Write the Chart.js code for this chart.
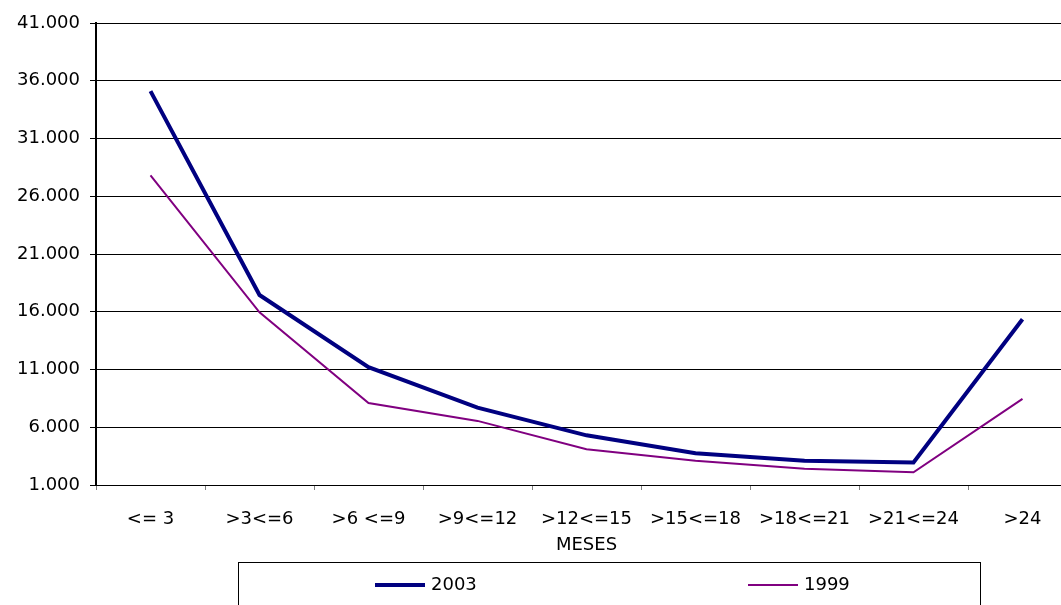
<!DOCTYPE html>
<html>
<head>
<meta charset="utf-8">
<script src="https://cdn.jsdelivr.net/npm/chart.js@4"></script>
<style>
  html, body { margin: 0; padding: 0; background: #fff; overflow: hidden; }
  #wrap { width: 1061px; height: 605px; overflow: hidden; }
</style>
</head>
<body>
<div id="wrap"><canvas id="myChart" width="1080" height="605"></canvas></div>
<script>
var categories = ["<= 3", ">3<=6", ">6 <=9", ">9<=12", ">12<=15", ">15<=18", ">18<=21", ">21<=24", ">24"];
var values2003 = [35100, 17450, 11200, 7700, 5300, 3750, 3100, 2950, 15350];
var values1999 = [27800, 15950, 8100, 6550, 4100, 3100, 2400, 2100, 8450];
var yTicks = [1000, 6000, 11000, 16000, 21000, 26000, 31000, 36000, 41000];

const ctx = document.getElementById('myChart');
const FONT = "'DejaVu Sans', Verdana, sans-serif";

// legend drawn inside a box at the bottom, like the original
const boxLegend = {
  id: 'boxLegend',
  afterDraw(chart) {
    const c = chart.ctx;
    c.save();
    c.strokeStyle = '#000';
    c.lineWidth = 1;
    c.strokeRect(238.5, 562.5, 742, 60);
    const spots = [375, 748];
    chart.data.datasets.forEach((ds, i) => {
      const x = spots[i];
      c.strokeStyle = ds.borderColor;
      c.lineWidth = ds.borderWidth;
      c.beginPath();
      c.moveTo(x, 585);
      c.lineTo(x + 50, 585);
      c.stroke();
      c.fillStyle = '#000';
      c.font = '18px ' + FONT;
      c.textBaseline = 'middle';
      c.fillText(ds.label, x + 56, 585);
    });
    c.restore();
  }
};

var myChart = new Chart(ctx, {
  type: 'line',
  data: {
    labels: categories,
    datasets: [
      { label: '2003', data: values2003, borderColor: '#000080', borderWidth: 4, pointRadius: 0, tension: 0 },
      { label: '1999', data: values1999, borderColor: '#800080', borderWidth: 2, pointRadius: 0, tension: 0 }
    ]
  },
  options: {
    responsive: false,
    animation: false,
    layout: { padding: { top: 23, right: 3, left: 0, bottom: 0 } },
    plugins: { legend: { display: false }, tooltip: { enabled: false } },
    scales: {
      x: {
        offset: true,
        grid: { display: true, drawOnChartArea: false, offset: true, tickLength: 5, color: '#808080' },
        border: { color: '#000', width: 1 },
        ticks: { color: '#000', font: { family: FONT, size: 18 }, padding: 19, maxRotation: 0, autoSkip: false },
        title: { display: true, text: 'MESES', color: '#000', font: { family: FONT, size: 18 }, padding: { top: 0, bottom: 49 } },
        afterFit: (scale) => { scale.height = 120; }
      },
      y: {
        min: 1000,
        max: 41000,
        afterBuildTicks: (scale) => { scale.ticks = yTicks.map(v => ({ value: v })); },
        grid: { color: '#000', lineWidth: 1, tickLength: 6 },
        border: { color: '#000', width: 2 },
        ticks: {
          color: '#000', font: { family: FONT, size: 18 }, padding: 10,
          callback: (v) => v.toLocaleString('de-DE')
        },
        afterFit: (scale) => { scale.width = 96; }
      }
    }
  },
  plugins: [boxLegend]
});
</script>
</body>
</html>
